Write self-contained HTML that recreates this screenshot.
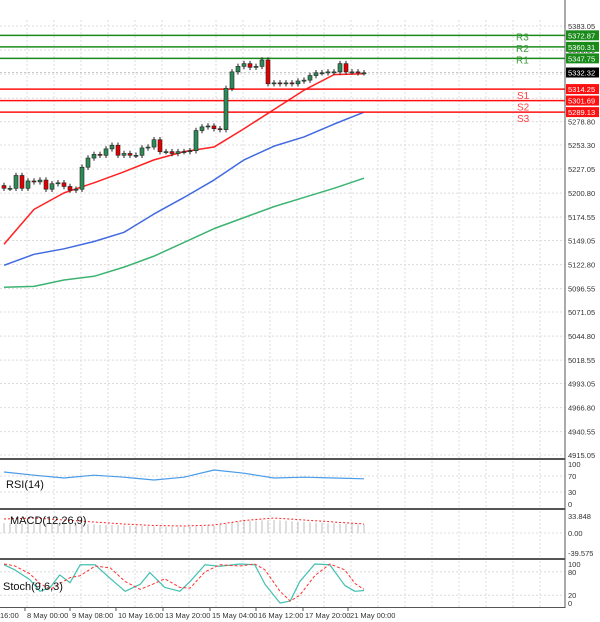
<!DOCTYPE html>
<html><head><meta charset="utf-8"><style>
html,body{margin:0;padding:0;background:#fff;}
svg{display:block;font-family:"Liberation Sans",sans-serif;}
</style></head><body>
<svg id="c" width="600" height="622"></svg>
<script>
const candleOpen=[5209,5206,5206,5220,5206,5214,5213,5215,5205,5211,5212,5208,5204,5205,5229,5239,5243,5242,5249,5253,5242,5244,5242,5242,5250,5251,5259,5246,5246,5244,5246,5246,5247,5269,5273,5274,5271,5270,5315,5333,5339,5342,5338,5339,5346,5320,5321,5320,5321,5320,5323,5324,5329,5332,5332,5333,5333,5342,5333,5333,5332];
const candleClose=[5206,5206,5220,5206,5214,5213,5215,5205,5211,5212,5208,5204,5205,5229,5239,5243,5242,5249,5253,5242,5244,5242,5242,5250,5251,5259,5246,5246,5244,5246,5246,5247,5269,5273,5274,5271,5270,5315,5333,5339,5342,5338,5339,5346,5320,5321,5320,5321,5320,5323,5324,5329,5332,5332,5333,5333,5342,5333,5333,5332,5332];
const maIdx=[0,5,10,15,20,25,30,35,40,45,50,55,60];
const maFast=[5145,5183,5201,5212,5224,5237,5246,5251,5271,5292,5313,5330,5331];
const maMid=[5122,5134,5140,5148,5158,5178,5196,5215,5237,5252,5262,5276,5289];
const maSlow=[5098,5099,5106,5110,5120,5132,5147,5162,5174,5186,5196,5206,5217];
const levelNames=["R3","R2","R1","S1","S2","S3"];
const levelValues=[5372.87,5360.31,5347.75,5314.25,5301.69,5289.13];
const priceTicks=[5383.05,5356.80,5330.55,5304.30,5278.80,5253.30,5227.05,5200.80,5174.55,5149.05,5122.80,5096.55,5071.05,5044.80,5018.55,4993.05,4966.80,4940.55,4915.05];
const rsiValues=[80,72,65,72,67,60,67,85,77,65,67,65,63];
const macdHist=[20,19,18,17,15,13,12,15,24,26,22,19,17];
const macdSignal=[28,30,26,22,18,15,14,16,25,30,26,22,18];
const stochIdx=[0,1.8,4.3,6,7.7,9.3,11,12.7,15.2,17.7,20.2,22.7,24.3,26.8,29.3,31,33.5,36,39.3,41.8,43.5,46,47.7,49.3,51.8,54.3,56.8,58.5,60];
const stochK=[98,85,60,30,40,72,52,98,98,63,30,48,78,40,30,55,98,94,100,98,48,0,5,55,100,98,45,30,32];
const stochD=[100,95,75,50,35,50,65,70,95,90,55,35,45,62,40,38,80,98,95,100,85,30,5,20,70,100,85,50,35];
const timeLabels=["16:00","8 May 00:00","9 May 08:00","10 May 16:00","13 May 20:00","15 May 04:00","16 May 12:00","17 May 20:00","21 May 00:00"];
const lastPrice=5332.32;

const svg=document.getElementById('c');
const NS='http://www.w3.org/2000/svg';
function mk(t,a,p){const e=document.createElementNS(NS,t);for(const k in a)e.setAttribute(k,a[k]);(p||svg).appendChild(e);return e;}
const X=i=>4+6*i;
const Y=v=>26+(5383.05-v)*0.9167;
const yR=v=>504-v*0.4;
const yM=v=>533-v*0.5;
const yS=v=>603-v*0.39;
const AX=565;

const g=mk('g',{});


for(let x=540;x>0;x-=27){[[20,458],[461,508],[511,558],[561,607]].forEach(r=>mk('line',{x1:x,x2:x,y1:r[0],y2:r[1],stroke:'#dcdcdc','stroke-dasharray':'2,2'},g));}
priceTicks.forEach(v=>mk('line',{x1:0,x2:AX,y1:Y(v),y2:Y(v),stroke:'#dcdcdc','stroke-dasharray':'2,2'},g));
[70,30].forEach(v=>mk('line',{x1:0,x2:AX,y1:yR(v),y2:yR(v),stroke:'#dcdcdc','stroke-dasharray':'2,2'},g));
mk('line',{x1:0,x2:AX,y1:yM(0),y2:yM(0),stroke:'#dcdcdc','stroke-dasharray':'2,2'},g);
[80,20].forEach(v=>mk('line',{x1:0,x2:AX,y1:yS(v),y2:yS(v),stroke:'#dcdcdc','stroke-dasharray':'2,2'},g));

priceTicks.forEach(v=>{const t=mk('text',{x:AX+3,y:Y(v)+3,'font-size':'7.5',fill:'#333'});t.textContent=v.toFixed(2);

});

function poly(idx,vals,fy,col,w,dash,name){const e=mk('polyline',{points:idx.map((i,k)=>X(i)+','+fy(vals[k])).join(' '),fill:'none',stroke:col,'stroke-width':w,'stroke-linejoin':'round'});if(dash)e.setAttribute('stroke-dasharray',dash);

return e;}
poly(maIdx,maSlow,Y,'#3cb371',1.5,null,'ma-slow-line');
poly(maIdx,maMid,Y,'#4169e1',1.5,null,'ma-mid-line');
poly(maIdx,maFast,Y,'#ff2020',1.5,null,'ma-fast-line');

levelValues.forEach((v,k)=>{const res=k<3;const col=res?'#1a8a1a':'#ff1010';const y=Y(v);
const l=mk('line',{x1:0,x2:AX,y1:y,y2:y,stroke:col,'stroke-width':1.5});


const r=mk('rect',{x:AX+1,y:y-5,width:33,height:10,fill:col});


const t=mk('text',{x:AX+3,y:y+3,'font-size':'7.5',fill:'#fff'});t.textContent=v.toFixed(2);


const n=mk('text',{x:res?516:517,y:res?y+5:y+10,'font-size':'10',fill:res?'#3a9a3a':'#ff4040'});n.textContent=levelNames[k];

});
const lp=mk('rect',{x:AX+1,y:Y(lastPrice)-5,width:33,height:10,fill:'#000'});


const lpt=mk('text',{x:AX+3,y:Y(lastPrice)+3,'font-size':'7.5',fill:'#fff'});lpt.textContent=lastPrice.toFixed(2);


mk('line',{x1:0,x2:AX,y1:Y(lastPrice),y2:Y(lastPrice),stroke:'#c8c8c8','stroke-dasharray':'2,2'});

candleOpen.forEach((o,i)=>{const c=candleClose[i];const up=c>=o;const x=X(i);
const hi=Math.max(o,c)+3,lo=Math.min(o,c)-3;
const w=mk('line',{x1:x,x2:x,y1:Y(hi),y2:Y(lo),stroke:'#222'});


const top=Y(Math.max(o,c)),h=Math.max(1,Math.abs(Y(o)-Y(c)));
const b=mk('rect',{x:x-2,y:top,width:4,height:h,fill:up?'#2e8b57':'#e00000',stroke:'#222','stroke-width':0.6});

});

poly(maIdx,rsiValues,yR,'#4a9be8',1.2,null,'rsi-line');
for(let i=0;i<61;i++){let k=Math.min(11,Math.floor(i/5));const f=(i-maIdx[k])/5;const v=macdHist[k]+(macdHist[k+1]-macdHist[k])*f;
const b=mk('line',{x1:X(i),x2:X(i),y1:yM(0),y2:yM(v),stroke:'#bdbdbd','stroke-width':1});

}
poly(maIdx,macdSignal,yM,'#ff2020',1,'2,2','macd-signal-line');
poly(stochIdx,stochK,yS,'#40c0b0',1.2,null,'stoch-k-line');
poly(stochIdx,stochD,yS,'#ff3030',1,'3,2','stoch-d-line');

[['RSI(14)',6,488,'rsi-label'],['MACD(12,26,9)',10,524,'macd-label'],['Stoch(9,6,3)',3,590,'stoch-label']].forEach(a=>{const t=mk('text',{x:a[1],y:a[2],'font-size':'11',fill:'#111'});t.textContent=a[0];

});
[['100',yR(100)],['70',yR(70)],['30',yR(30)],['0',yR(0)],['33.848',yM(33.848)],['0.00',yM(0)],['-39.575',yM(-39.575)],['100',yS(100)],['80',yS(80)],['20',yS(20)],['0',yS(0)]].forEach(a=>{const t=mk('text',{x:AX+3,y:a[1]+3,'font-size':'7.5',fill:'#333'});t.textContent=a[0];

});

[459,509,559].forEach(y=>mk('line',{x1:0,x2:AX,y1:y,y2:y,stroke:'#555','stroke-width':2}));
mk('line',{x1:0,x2:AX,y1:607.5,y2:607.5,stroke:'#555','stroke-width':1});
mk('line',{x1:AX,x2:AX,y1:0,y2:608,stroke:'#555','stroke-width':1});

const tx=[0,27,72,118,165,212,258,305,350];
timeLabels.forEach((s,k)=>{mk('line',{x1:tx[k]-2,x2:tx[k]-2,y1:608,y2:611,stroke:'#555'});
const t=mk('text',{x:tx[k],y:618,'font-size':'7.5',fill:'#333'});t.textContent=s;

});
</script>
</body></html>
